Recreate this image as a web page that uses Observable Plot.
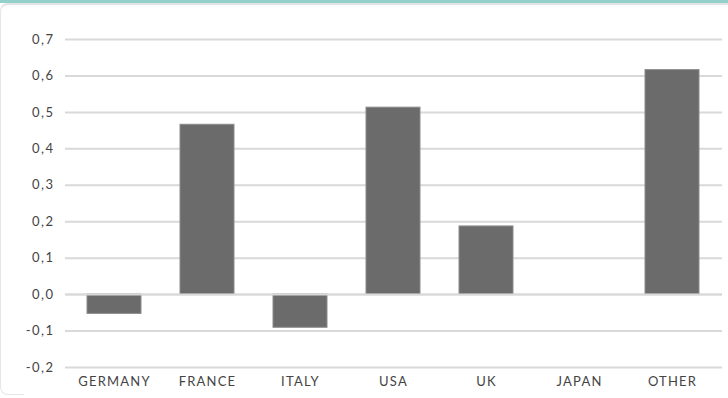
<!DOCTYPE html>
<html>
<head>
<meta charset="utf-8">
<script src="https://cdn.jsdelivr.net/npm/d3@7"></script>
<script src="https://cdn.jsdelivr.net/npm/@observablehq/plot@0.6"></script>
<style>
  html, body { margin: 0; padding: 0; background: #ffffff; overflow: hidden; }
  #wrap { position: relative; width: 728px; height: 398px; overflow: hidden; background: #ffffff; }
  #band { position: absolute; left: 0; top: 0; width: 728px; height: 3px; background: #93d0cc; }
  #topline { position: absolute; left: 8px; top: 3px; width: 720px; height: 2px; background: #e3e3e3; }
  #edge { position: absolute; left: 0; top: 3px; width: 24px; height: 392px; box-sizing: border-box;
          border-top: 2px solid #e3e3e3; border-left: 1px solid #e6e6e6; border-bottom: 1px solid #e6e6e6;
          border-right: 0; border-radius: 8px 0 0 8px; }
  #chart { position: absolute; left: 0; top: 0; }
  #chart svg { font-family: Lato, "DejaVu Sans", sans-serif; }
  #chart g[aria-label="x-axis tick label"] text { letter-spacing: 1.2px; }
  #chart g[aria-label="y-axis tick label"] text { letter-spacing: 1.5px; }
</style>
</head>
<body>
<div id="wrap">
  <div id="band"></div>
  <div id="topline"></div>
  <div id="edge"></div>
  <div id="chart"></div>
</div>
<script>
// Net change by country (share)
const countries = ["GERMANY", "FRANCE", "ITALY", "USA", "UK", "JAPAN", "OTHER"];
const values = [-0.053, 0.466, -0.091, 0.513, 0.187, 0.0, 0.616];
const yTicks = [-0.2, -0.1, 0, 0.1, 0.2, 0.3, 0.4, 0.5, 0.6, 0.7];

const rows = countries.map((c, i) => ({country: c, value: values[i]}));
const fmt = d => d3.format(".1f")(d).replace(".", ",").replace("\u2212", "-");

const chart = Plot.plot({
  width: 728,
  height: 398,
  marginTop: 39,
  marginBottom: 31,
  marginLeft: 65,
  marginRight: 6,
  style: {fontSize: "13px", color: "#444444", background: "transparent"},
  x: {domain: countries, paddingInner: 0.415, paddingOuter: 0.2075, label: null},
  y: {domain: [-0.2, 0.7], label: null},
  marks: [
    Plot.gridY(yTicks, {stroke: "#d9d9d9", strokeOpacity: 1, strokeWidth: 2}),
    Plot.barY(rows, {x: "country", y: "value", fill: "#6b6b6b", stroke: "#8c8c8c", strokeWidth: 1}),
    Plot.ruleY([0], {stroke: "#d9d9d9", strokeWidth: 2}),
    Plot.axisY({ticks: yTicks, tickSize: 0, tickPadding: 11, tickFormat: fmt, fill: "#444444"}),
    Plot.axisX({tickSize: 0, tickPadding: 9, fill: "#444444"})
  ]
});
document.getElementById("chart").appendChild(chart);
</script>
</body>
</html>
